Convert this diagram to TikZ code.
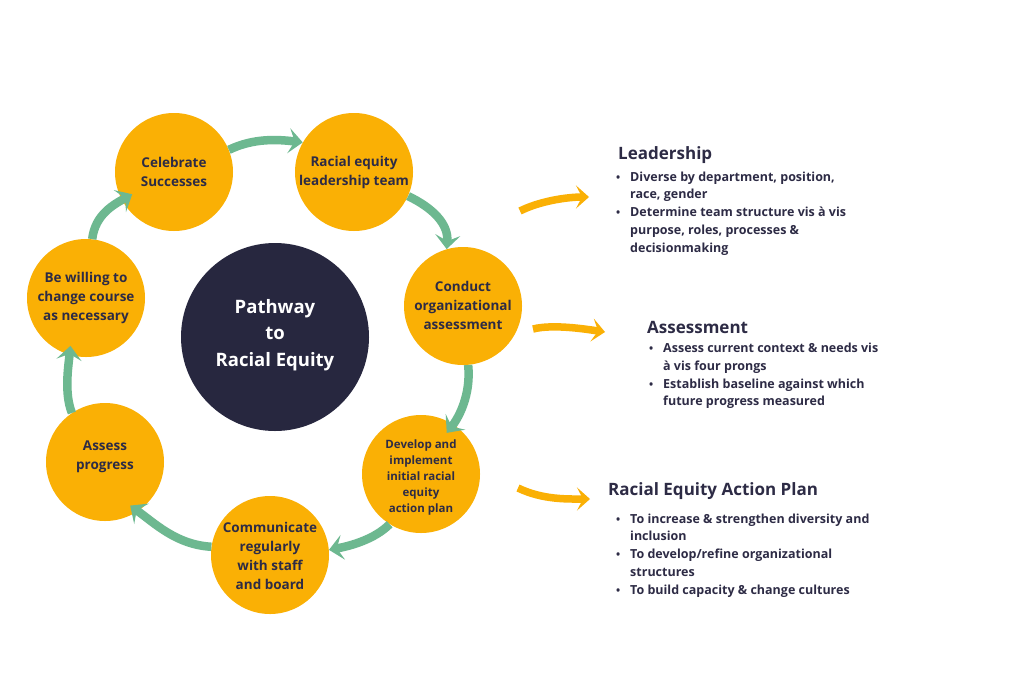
\documentclass[tikz,border=0pt]{standalone}
\usepackage{fontspec}
\setmainfont{Open Sans}
\usetikzlibrary{arrows.meta,calc}
\definecolor{gold}{HTML}{FAB005}
\definecolor{navy}{HTML}{27273F}
\definecolor{leaf}{HTML}{6DB890}
\definecolor{ink}{HTML}{2D2B45}
\newcommand{\blt}{{\fontsize{11}{11}\selectfont\textbullet}}
\begin{document}
\begin{tikzpicture}[x=1pt,y=-1pt,
  bubble/.style={circle, fill=gold, minimum size=118pt, inner sep=0pt},
  btext/.style={align=center, text=ink, font=\fontsize{13.5}{19}\selectfont\bfseries, inner sep=0pt},
  stext/.style={align=center, text=ink, font=\fontsize{11.5}{16}\selectfont\bfseries, inner sep=0pt},
  garrow/.style={draw=leaf, line width=8.5pt, -{Stealth[length=14pt,width=25pt,inset=6pt]}},
  oarrow/.style={draw=gold, line width=7.5pt, -{Stealth[length=13pt,width=23pt,inset=6pt]}},
  head/.style={anchor=base west, text=ink, inner sep=0pt, font=\fontsize{17}{20}\selectfont\bfseries},
  body/.style={anchor=north west, text=ink, inner sep=0pt, font=\fontsize{12.5}{17.8}\selectfont\bfseries}
]
\useasboundingbox (0,0) rectangle (1024,683);
\fill[white] (0,0) rectangle (1024,683);

% central circle
\node[circle, fill=navy, minimum size=188pt, inner sep=0pt] (hub) at (275,337) {};
\node[align=center, text=white, inner sep=0pt, font=\fontsize{18.5}{26.5}\selectfont\bfseries] (hubt) at (275,335) {Pathway\\to\\Racial Equity};

% step circles
\node[bubble] (c1) at (174,172) {};
\node[bubble] (c2) at (354,172) {};
\node[bubble] (c3) at (463,306) {};
\node[bubble] (c4) at (421,474) {};
\node[bubble] (c5) at (270,555) {};
\node[bubble] (c6) at (105,462) {};
\node[bubble] (c7) at (86,298) {};

\node[btext] (t1) at (174,172) {Celebrate\\Successes};
\node[btext] (t2) at (354,172) {Racial equity\\leadership team};
\node[btext] (t3) at (463,305) {Conduct\\organizational\\assessment};
\node[stext] (t4) at (421,478) {Develop and\\implement\\initial racial\\equity\\action plan};
\node[btext] (t5) at (270,556) {Communicate\\regularly\\with staff\\and board};
\node[btext] (t6) at (105,457) {Assess\\progress};
\node[btext] (t7) at (86,298) {Be willing to\\change course\\as necessary};

% green cycle arrows
\draw[garrow] (c1.22) .. controls +(25,-12) and +(-25,-3) .. (c2.150);
\draw[garrow] (c2.-24) .. controls +(25,12) and +(2,-25) .. (c3.106);
\draw[garrow] (c3.-85) .. controls +(3,30) and +(12,-15) .. ($(c4)!0.82!(c4.58)$);
\draw[garrow] (c4.-122) .. controls +(-15,15) and +(22,-4) .. (c5.5);
\draw[garrow] (c5.172) .. controls +(-35,-2) and +(25,18) .. ($(c6)!0.85!(c6.-60)$);
\draw[garrow] (c6.124) .. controls +(-8,-20) and +(-2,20) .. ($(c7)!0.85!(c7.-108)$);
\draw[garrow] (c7.84) .. controls +(3,-25) and +(-18,10) .. ($(c1)!0.8!(c1.-152)$);

% orange arrows
\coordinate (o1a) at (520,211);
\coordinate (o1b) at (589,197);
\coordinate (o2a) at (533,329);
\coordinate (o2b) at (605,332);
\coordinate (o3a) at (518,488);
\coordinate (o3b) at (590,499);
\draw[oarrow] (o1a) .. controls +(20,-10) and +(-22,0) .. (o1b);
\draw[oarrow] (o2a) .. controls +(20,-5) and +(-20,-3) .. (o2b);
\draw[oarrow] (o3a) .. controls +(25,12) and +(-22,0) .. (o3b);

% right side texts
\node[head] (h1) at (618,159) {Leadership};
\node[body] (b1) at (616,168.4) {\begin{tabular}{@{}p{14pt}@{}l@{}}
\blt & Diverse by department, position,\\
 & race, gender\\
\blt & Determine team structure vis à vis\\
 & purpose, roles, processes \&\\
 & decisionmaking
\end{tabular}};

\node[head] (h2) at (647,333) {Assessment};
\node[body] (b2) at (649,339.8) {\begin{tabular}{@{}p{14pt}@{}l@{}}
\blt & Assess current context \& needs vis\\
 & à vis four prongs\\
\blt & Establish baseline against which\\
 & future progress measured
\end{tabular}};

\node[head] (h3) at (608,495) {Racial Equity Action Plan};
\node[body] (b3) at (616,510.4) {\begin{tabular}{@{}p{14pt}@{}l@{}}
\blt & To increase \& strengthen diversity and\\
 & inclusion\\
\blt & To develop/refine organizational\\
 & structures\\
\blt & To build capacity \& change cultures
\end{tabular}};
\end{tikzpicture}
\end{document}
